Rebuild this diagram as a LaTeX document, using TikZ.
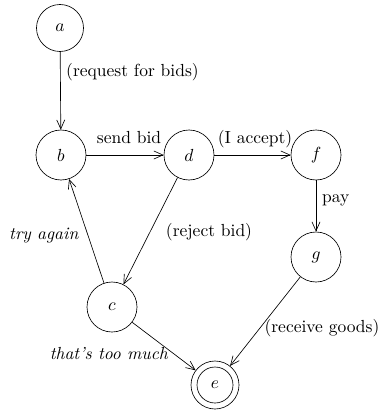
\documentclass[tikz,border=0pt]{standalone}
\usetikzlibrary{arrows.meta}
\newcommand{\bigtxt}[1]{\scalebox{1.75}{#1}}
\begin{document}
\begin{tikzpicture}[x=1pt,y=-1pt,
  state/.style={draw, circle, minimum size=50pt, inner sep=0pt, line width=0.65pt},
  lbl/.style={inner sep=0pt},
  conn/.style={line width=0.65pt, -{Straight Barb[length=9pt,width=8pt,line width=0.65pt]}}]
\useasboundingbox (0,0) rectangle (380,412);
\node[state, minimum size=47pt] (a) at (60,28) {\bigtxt{$a$}};
\node[state] (b) at (61,155) {\bigtxt{$b$}};
\node[state] (d) at (189,155) {\bigtxt{$d$}};
\node[state] (f) at (316,155) {\bigtxt{$f$}};
\node[state] (g) at (316,257) {\bigtxt{$g$}};
\node[state] (c) at (112,307) {\bigtxt{$c$}};
\node[state, minimum size=48pt] (e) at (215,385) {\bigtxt{$e$}};
\draw[line width=0.65pt] (e.center) circle (18pt);
\draw[conn] (a) -- (b);
\draw[conn] (b) -- (d);
\draw[conn] (d) -- (f);
\draw[conn] (f) -- (g);
\draw[conn] (d) -- (c);
\draw[conn] (c) -- (b);
\draw[conn] (c) -- (e);
\draw[conn] (g) -- (e);
\node[lbl, anchor=west] (l1) at (66,72) {\bigtxt{(request for bids)}};
\node[lbl] (l2) at (129,138) {\bigtxt{send bid}};
\node[lbl] (l3) at (255,139) {\bigtxt{(I accept)}};
\node[lbl, anchor=west] (l4) at (322,200) {\bigtxt{pay}};
\node[lbl] (l5) at (209,232) {\bigtxt{(reject bid)}};
\node[lbl] (l6) at (44,236) {\bigtxt{\textit{try again}}};
\node[lbl] (l7) at (109,354) {\bigtxt{\textit{that's too much}}};
\node[lbl] (l8) at (322,328) {\bigtxt{(receive goods)}};
\end{tikzpicture}
\end{document}
